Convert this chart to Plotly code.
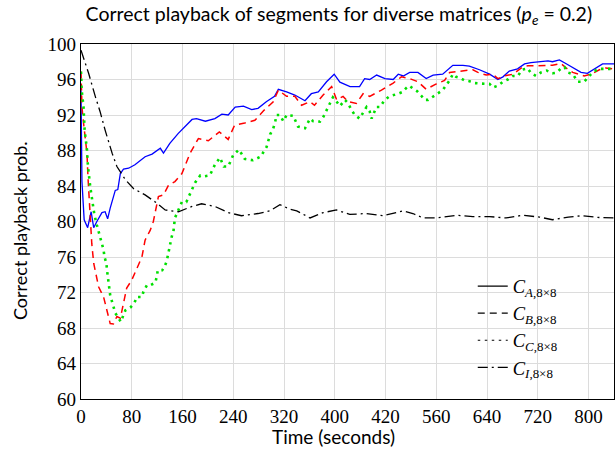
import plotly.graph_objects as go

# ---------------- data ----------------
x_ticks = [0, 80, 160, 240, 320, 400, 480, 560, 640, 720, 800]
x_ticklabels = ["0", "80", "160", "240", "320", "400", "420", "560", "640", "720", "800"]
y_ticks = [60, 64, 68, 72, 76, 80, 84, 88, 92, 96, 100]

t_A = [0, 1.5, 5, 10.5, 16, 20, 25, 33, 38, 42, 46, 54, 58, 62, 67, 75, 85, 101, 112, 125, 130, 140, 153, 164, 175,
       182, 196, 211, 222, 232, 243, 256, 269, 279, 292, 305, 311, 324, 337, 353, 363, 374, 387, 399, 408, 424, 439,
       447, 455, 466, 479, 492, 500, 508, 518, 531, 544, 555, 570, 586, 602, 612, 628, 644, 657, 665, 675, 688, 699,
       709, 720, 736, 743, 754, 764, 778, 788, 798, 809, 822, 840]
p_A = [94.8, 84.5, 80.2, 79.3, 81.1, 79.3, 80.0, 81.0, 81.1, 80.3, 81.5, 83.5, 83.6, 85.4, 85.9, 86.0, 86.4, 87.3, 87.6,
       88.25, 87.7, 88.8, 89.9, 90.7, 91.5, 91.6, 91.3, 91.6, 92.1, 92.0, 92.9, 93.0, 92.6, 92.75, 93.5, 94.1, 94.9,
       94.6, 94.25, 93.6, 94.4, 94.6, 95.75, 96.6, 95.7, 95.2, 95.2, 96.1, 96.0, 96.5, 96.1, 96.0, 96.6, 96.4, 96.8,
       96.8, 96.1, 96.5, 96.6, 97.6, 97.6, 97.5, 97.1, 96.6, 96.0, 96.3, 96.95, 97.2, 97.75, 97.9, 98.0, 98.1, 98.0,
       98.2, 97.8, 97.2, 96.8, 96.7, 97.2, 97.75, 97.75]

t_B = [0, 1.5, 4, 7, 9.4, 11, 14, 17, 20, 27.7, 35.6, 41, 46, 51, 56.6, 62, 67, 72, 80, 90.6, 96, 101, 109, 114, 122,
       130, 138, 148, 159, 172, 185, 200.7, 218, 232, 242, 258, 274, 288, 303, 311, 324, 337, 347.6, 361, 368, 381.6,
       395, 403, 413, 421, 434, 444.6, 455, 473.5, 492, 505, 518, 531, 544, 560, 573, 581, 597, 617.6, 625.5, 638.6,
       649, 657, 667.6, 680.5, 694, 704, 714.6, 727.7, 743, 756.6, 764.5, 775, 793, 804, 817, 827, 840]
p_B = [96.9, 92.9, 91.1, 89.2, 87.7, 85.0, 81.0, 77.5, 75.3, 72.65, 71.5, 70.0, 68.5, 68.45, 69.3, 69.1, 70.8, 72.5,
       73.4, 75.1, 76.0, 77.9, 79.0, 80.0, 82.8, 83.0, 84.1, 84.5, 85.4, 87.7, 89.35, 89.1, 90.1, 89.25, 90.85, 91.1,
       91.4, 92.5, 93.5, 94.8, 94.1, 94.1, 93.1, 93.5, 93.1, 94.25, 95.2, 93.7, 94.1, 93.5, 93.3, 94.4, 94.1, 94.8,
       95.6, 96.3, 96.1, 95.75, 94.9, 95.5, 95.9, 96.8, 96.9, 97.1, 96.8, 96.5, 96.6, 96.1, 96.4, 96.6, 97.3, 97.55,
       97.55, 97.6, 97.6, 97.8, 97.3, 96.8, 96.4, 96.6, 97.1, 97.3, 97.2]

t_C = [0, 1, 4, 5.7, 9.4, 11, 14.6, 18, 21, 25, 27.7, 30, 33, 35.6, 37, 40, 41, 42, 43.5, 46, 48.8, 51, 54, 58, 63,
       67, 70, 77.6, 84, 88, 96, 98.5, 104, 110, 117, 119.5, 121, 128, 131.5, 135, 137, 140.5, 143, 145.7, 147, 148,
       153.5, 159, 166, 172, 180, 188, 195, 203, 211, 219, 225, 232, 240, 249, 258, 271, 283, 292.5, 298, 303, 306,
       308, 313.5, 319, 324, 334.5, 342, 353, 361, 366, 376.5, 382, 387, 392, 397, 403, 408, 416, 421, 426, 431.5,
       439, 450, 455, 458, 465.6, 471, 478.7, 486, 500, 507, 512, 517, 523, 529.5, 536, 541.6, 547, 555, 563, 570,
       578, 581, 586, 591, 597, 604.5, 612.5, 620, 628, 636, 644, 649, 657, 665, 672.6, 680.5, 688.5, 695, 704,
       709.5, 717, 725, 734, 743, 749, 756.6, 762, 767, 775, 783, 793, 801, 809, 817, 825, 840]
p_C = [96.9, 94.8, 92.9, 90.3, 88.1, 86.2, 83.9, 82.0, 80.8, 79.6, 78.85, 78.2, 77.35, 76.8, 76.0, 75.3, 74.5, 73.9,
       73.0, 71.7, 71.0, 70.4, 69.7, 69.2, 68.7, 69.5, 70.0, 70.3, 70.8, 71.5, 71.5, 72.1, 72.85, 72.85, 73.1, 73.8,
       74.5, 74.5, 74.9, 75.5, 76.3, 77.5, 78.3, 78.9, 79.6, 80.4, 81.3, 82.2, 82.2, 83.2, 84.4, 85.2, 85.1, 85.2,
       86.4, 87.2, 86.2, 86.2, 87.5, 88.1, 87.05, 86.9, 87.3, 88.4, 89.8, 90.5, 91.2, 92.0, 92.0, 91.3, 92.0, 91.9,
       90.7, 90.5, 91.6, 91.3, 91.25, 91.8, 92.6, 93.3, 94.0, 93.5, 93.0, 93.7, 93.3, 92.6, 92.0, 91.6, 92.9, 92.4,
       91.6, 92.9, 92.9, 93.7, 94.1, 94.4, 94.6, 95.0, 95.3, 95.0, 94.7, 94.2, 93.7, 93.7, 94.1, 94.4, 94.8, 95.6,
       95.9, 96.6, 96.3, 96.2, 95.9, 95.8, 95.6, 95.55, 95.55, 95.5, 95.1, 95.3, 95.75, 96.0, 96.4, 96.4, 97.1, 97.25,
       96.7, 96.4, 96.8, 97.0, 96.7, 96.75, 97.25, 97.4, 96.8, 96.6, 95.75, 95.75, 96.4, 96.95, 97.2, 97.2, 97.2]

t_I = [0, 12, 22.5, 30, 38, 49, 56.6, 70, 83, 101, 117, 132.6, 153.5, 175, 190, 211, 232, 253, 279, 298, 313.5, 329,
       340, 361, 381.6, 402.7, 423.6, 450, 476, 507.5, 523, 539, 560, 591.5, 617.6, 644, 670, 696, 722.5, 743, 768,
       790.6, 817, 840]
p_I = [99.3, 96.7, 94.1, 92.4, 90.3, 87.7, 86.2, 84.7, 83.7, 83.0, 82.2, 81.3, 81.1, 81.7, 82.0, 81.7, 81.0, 80.65,
       80.9, 81.2, 81.9, 81.4, 81.2, 80.4, 81.0, 81.3, 80.8, 80.9, 80.65, 81.2, 80.9, 80.4, 80.4, 80.7, 80.55, 80.55,
       80.4, 80.7, 80.5, 80.2, 80.5, 80.65, 80.45, 80.4]

legend_names = ["<i>C</i><sub><i>A</i>,8×8</sub>", "<i>C</i><sub><i>B</i>,8×8</sub>",
                "<i>C</i><sub><i>C</i>,8×8</sub>", "<i>C</i><sub><i>I</i>,8×8</sub>"]

# ---------------- styles ----------------
series = [
    (t_A, p_A, "#0000ff", "solid", 1.3),
    (t_B, p_B, "#ff0000", "7px,5px", 1.5),
    (t_C, p_C, "#00e000", "2.5px,4.5px", 2.6),
    (t_I, p_I, "#000000", "10px,4px,2px,4px", 1.3),
]

fig = go.Figure()
for (tx, py, col, dash, w) in series:
    fig.add_trace(go.Scatter(x=tx, y=py, mode="lines", line=dict(color=col, dash=dash, width=w),
                             showlegend=False, hoverinfo="skip"))
# legend entries (black samples)
for name, (_, _, _, dash, w) in zip(legend_names, series):
    fig.add_trace(go.Scatter(x=[None], y=[None], mode="lines", name=name,
                             line=dict(color="black", dash=dash, width=1.2)))

grid = "#dcdcdc"
sans = "Lato"
fig.update_layout(
    width=615, height=450,
    margin=dict(l=81, r=1, t=44, b=51),
    paper_bgcolor="white", plot_bgcolor="white",
    title=dict(text="Correct playback of segments for diverse matrices (<i>p</i><sub><i>e</i></sub> = 0.2)",
               x=0.551, xanchor="center", y=0.968, yanchor="middle",
               font=dict(family=sans, size=19.5, color="black")),
    xaxis=dict(range=[0, 840], tickvals=x_ticks, ticktext=x_ticklabels,
               showgrid=True, gridcolor=grid, gridwidth=1.3, zeroline=False,
               showline=True, linecolor="black", linewidth=1.3, mirror=True, ticks="",
               tickfont=dict(family="Liberation Serif", size=19, color="black")),
    yaxis=dict(range=[60, 100], tickvals=y_ticks,
               showgrid=True, gridcolor=grid, gridwidth=1.3, zeroline=False,
               showline=True, linecolor="black", linewidth=1.3, mirror=True, ticks="",
               tickfont=dict(family="Liberation Serif", size=19, color="black")),
    legend=dict(x=0.735, y=0.37, xanchor="left", yanchor="top", bgcolor="rgba(0,0,0,0)",
                font=dict(family="Liberation Serif", size=18.5, color="black"), tracegroupgap=0),
    annotations=[
        dict(text="Time (seconds)", xref="paper", yref="paper", x=(333 - 81) / 533, y=-0.107,
             xanchor="center", yanchor="middle", showarrow=False,
             font=dict(family=sans, size=19, color="black")),
        dict(text="Correct playback prob.", xref="paper", yref="paper", x=(20 - 81) / 533,
             y=(399 - 231) / 355, xanchor="center", yanchor="middle", textangle=-90, showarrow=False,
             font=dict(family=sans, size=18, color="black")),
    ],
)

fig.write_html("out.html")
